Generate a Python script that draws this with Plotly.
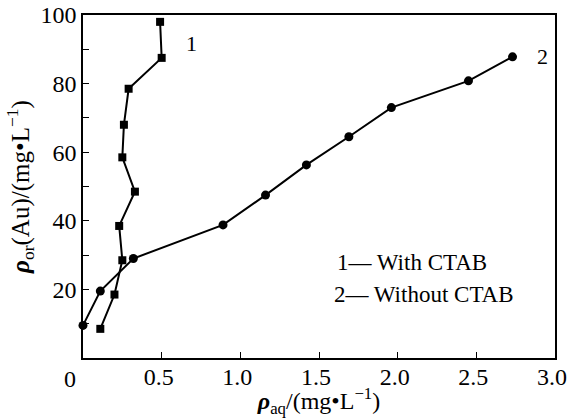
import plotly.graph_objects as go

# Series 1: With CTAB (squares)
x1 = [0.49, 0.50, 0.29, 0.26, 0.25, 0.33, 0.23, 0.25, 0.20, 0.11]
y1 = [98.0, 87.5, 78.5, 68.0, 58.5, 48.5, 38.5, 28.5, 18.5, 8.5]
# Series 2: Without CTAB (circles)
x2 = [0.0, 0.11, 0.32, 0.89, 1.16, 1.42, 1.69, 1.96, 2.45, 2.73]
y2 = [9.5, 19.5, 29.0, 38.8, 47.5, 56.3, 64.5, 73.0, 80.8, 87.8]

xtick_vals = [0.5, 1.0, 1.5, 2.0, 2.5, 3.0]
xtick_text = ["0.5", "1.0", "1.5", "2.0", "2.5", "3.0"]
ytick_vals = [20, 40, 60, 80, 100]
ytick_text = ["20", "40", "60", "80", "100"]

FONT = "Liberation Serif"

fig = go.Figure()
fig.add_trace(go.Scatter(x=x1, y=y1, mode="lines+markers",
                         line=dict(color="black", width=2),
                         marker=dict(symbol="square", size=8, color="black"),
                         showlegend=False, cliponaxis=False))
fig.add_trace(go.Scatter(x=x2, y=y2, mode="lines+markers",
                         line=dict(color="black", width=2),
                         marker=dict(symbol="circle", size=9, color="black"),
                         showlegend=False, cliponaxis=False))

axis_common = dict(showline=True, linecolor="black", linewidth=1.5, mirror=True,
                   showgrid=False, zeroline=False, ticks="inside", ticklen=6,
                   tickcolor="black", tickwidth=1, automargin=False,
                   ticklabeloverflow="allow",
                   tickfont=dict(family=FONT, size=24, color="black"))

fig.update_xaxes(range=[0, 3], tickvals=xtick_vals, ticktext=xtick_text,
                 ticklabelshift=-3, ticklabelstandoff=-4,
                 title=dict(text="<b><i>ρ</i></b><sub>aq</sub>/(mg•L<sup>−1</sup>)",
                            font=dict(family=FONT, size=24, color="black"), standoff=4),
                 **axis_common)
fig.update_yaxes(range=[0, 100], tickvals=ytick_vals, ticktext=ytick_text,
                 minor=dict(dtick=10, ticks="inside", ticklen=6, tickcolor="black"),
                 title=dict(text="<b><i>ρ</i></b><sub>or</sub>(Au)/(mg•L<sup>−1</sup>)",
                            font=dict(family=FONT, size=25, color="black"), standoff=4),
                 **axis_common)

anns = [
    dict(x=0, y=0, xref="x", yref="y", text="0", showarrow=False,
         xshift=-13, yshift=-21, font=dict(family=FONT, size=24, color="black")),
    dict(x=0.64, y=91.8, xref="x", yref="y", text="1", showarrow=False,
         xanchor="left", font=dict(family=FONT, size=22, color="black")),
    dict(x=2.87, y=88.0, xref="x", yref="y", text="2", showarrow=False,
         xanchor="left", font=dict(family=FONT, size=22, color="black")),
    dict(x=1.60, y=27.7, xref="x", yref="y", text="1— With CTAB", showarrow=False,
         xanchor="left", font=dict(family=FONT, size=23, color="black")),
    dict(x=1.58, y=18.4, xref="x", yref="y", text="2— Without CTAB", showarrow=False,
         xanchor="left", font=dict(family=FONT, size=23, color="black")),
]
fig.update_layout(width=567, height=418, margin=dict(l=83, r=12, t=15, b=60),
                  plot_bgcolor="white", paper_bgcolor="white", annotations=anns)

fig.write_html("out.html")
